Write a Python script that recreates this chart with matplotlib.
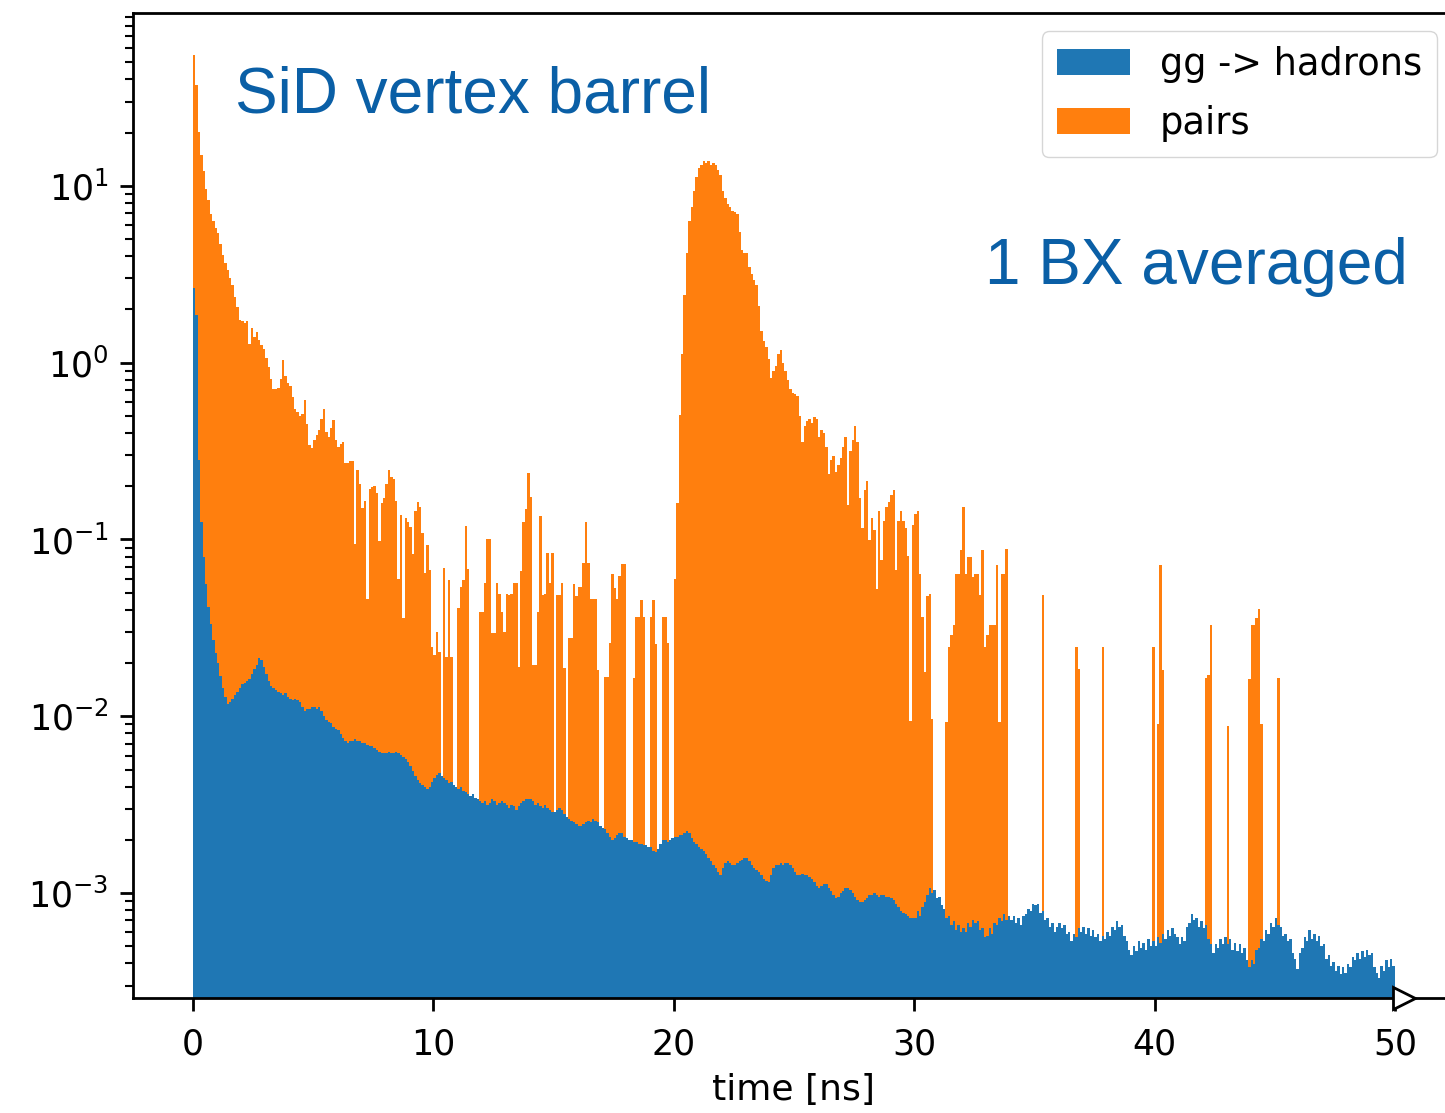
import numpy as np
import matplotlib
matplotlib.use("Agg")
import matplotlib.pyplot as plt

# 0.1 ns bins from 0 to 50 ns
bin_edges = np.linspace(0, 50, 501)

# log10 of the per-bin hit rate, gg -> hadrons (one row = 1 ns)
gg_log = [
    0.42, 0.27, -0.55, -0.90, -1.10, -1.25, -1.38, -1.48, -1.57, -1.64,
    -1.70, -1.77, -1.84, -1.89, -1.93, -1.92, -1.90, -1.88, -1.86, -1.84,
    -1.82, -1.81, -1.80, -1.79, -1.76, -1.73, -1.71, -1.67, -1.68, -1.72,
    -1.76, -1.80, -1.83, -1.84, -1.85, -1.86, -1.87, -1.88, -1.87, -1.89,
    -1.90, -1.91, -1.90, -1.91, -1.92, -1.95, -1.97, -1.96, -1.96, -1.95,
    -1.95, -1.96, -1.95, -1.97, -2.00, -2.02, -2.03, -2.04, -2.06, -2.07,
    -2.08, -2.10, -2.12, -2.14, -2.15, -2.14, -2.14, -2.13, -2.14, -2.14,
    -2.15, -2.15, -2.16, -2.17, -2.17, -2.18, -2.19, -2.20, -2.21, -2.21,
    -2.21, -2.20, -2.21, -2.21, -2.20, -2.21, -2.22, -2.23, -2.24, -2.26,
    -2.28, -2.31, -2.34, -2.36, -2.38, -2.39, -2.40, -2.41, -2.40, -2.37,
    -2.35, -2.33, -2.32, -2.34, -2.35, -2.36, -2.38, -2.37, -2.39, -2.40,
    -2.41, -2.40, -2.42, -2.43, -2.44, -2.45, -2.44, -2.46, -2.47, -2.48,
    -2.49, -2.48, -2.50, -2.49, -2.47, -2.48, -2.50, -2.49, -2.48, -2.49,
    -2.50, -2.52, -2.50, -2.51, -2.53, -2.51, -2.49, -2.48, -2.47, -2.47,
    -2.47, -2.48, -2.50, -2.49, -2.51, -2.52, -2.50, -2.52, -2.53, -2.54,
    -2.54, -2.53, -2.52, -2.53, -2.55, -2.57, -2.58, -2.59, -2.60, -2.61,
    -2.62, -2.62, -2.61, -2.60, -2.59, -2.60, -2.58, -2.59, -2.60, -2.62,
    -2.63, -2.64, -2.66, -2.68, -2.70, -2.69, -2.67, -2.66, -2.66, -2.68,
    -2.69, -2.70, -2.70, -2.71, -2.71, -2.72, -2.72, -2.73, -2.73, -2.74,
    -2.74, -2.76, -2.77, -2.75, -2.72, -2.70, -2.70, -2.71, -2.70, -2.69,
    -2.68, -2.68, -2.67, -2.67, -2.66, -2.65, -2.66, -2.69, -2.71, -2.72,
    -2.74, -2.75, -2.76, -2.78, -2.80, -2.82, -2.84, -2.86, -2.88, -2.90,
    -2.86, -2.83, -2.82, -2.83, -2.84, -2.84, -2.83, -2.82, -2.81, -2.80,
    -2.80, -2.82, -2.84, -2.86, -2.87, -2.88, -2.90, -2.92, -2.93, -2.94,
    -2.90, -2.86, -2.84, -2.84, -2.83, -2.84, -2.83, -2.83, -2.84, -2.86,
    -2.88, -2.90, -2.90, -2.89, -2.90, -2.90, -2.91, -2.92, -2.94, -2.96,
    -2.97, -2.96, -2.95, -2.95, -2.97, -2.99, -3.01, -3.03, -3.02, -3.00,
    -2.99, -2.97, -2.97, -2.98, -3.00, -3.02, -3.04, -3.05, -3.05, -3.04,
    -3.03, -3.01, -3.01, -3.00, -3.01, -3.02, -3.01, -3.01, -3.02, -3.02,
    -3.03, -3.04, -3.06, -3.08, -3.10, -3.11, -3.12, -3.13, -3.14, -3.14,
    -3.14, -3.10, -3.13, -3.08, -3.05, -3.01, -2.97, -3.00, -2.98, -3.03,
    -3.02, -3.07, -3.09, -3.14, -3.13, -3.18, -3.16, -3.21, -3.18, -3.22,
    -3.20, -3.22, -3.17, -3.19, -3.15, -3.17, -3.16, -3.21, -3.20, -3.25,
    -3.24, -3.20, -3.23, -3.17, -3.18, -3.14, -3.16, -3.12, -3.15, -3.13,
    -3.15, -3.13, -3.17, -3.14, -3.18, -3.13, -3.12, -3.09, -3.10, -3.06,
    -3.07, -3.06, -3.11, -3.10, -3.15, -3.14, -3.19, -3.17, -3.22, -3.19,
    -3.17, -3.20, -3.18, -3.23, -3.22, -3.27, -3.23, -3.25, -3.20, -3.22,
    -3.19, -3.23, -3.20, -3.24, -3.21, -3.25, -3.23, -3.27, -3.24, -3.26,
    -3.22, -3.24, -3.19, -3.21, -3.16, -3.19, -3.18, -3.24, -3.27, -3.32,
    -3.35, -3.30, -3.33, -3.27, -3.31, -3.28, -3.32, -3.26, -3.30, -3.27,
    -3.30, -3.25, -3.28, -3.23, -3.26, -3.21, -3.24, -3.20, -3.23, -3.25,
    -3.29, -3.25, -3.27, -3.19, -3.17, -3.12, -3.15, -3.14, -3.19, -3.16,
    -3.20, -3.18, -3.26, -3.29, -3.34, -3.29, -3.31, -3.26, -3.29, -3.25,
    -3.29, -3.26, -3.32, -3.28, -3.33, -3.29, -3.34, -3.31, -3.38, -3.42,
    -3.38, -3.40, -3.32, -3.31, -3.26, -3.27, -3.21, -3.23, -3.17, -3.19,
    -3.14, -3.18, -3.19, -3.24, -3.23, -3.27, -3.26, -3.34, -3.37, -3.43,
    -3.34, -3.31, -3.25, -3.27, -3.21, -3.26, -3.23, -3.27, -3.24, -3.30,
    -3.29, -3.37, -3.35, -3.41, -3.39, -3.44, -3.41, -3.46, -3.42, -3.45,
    -3.40, -3.42, -3.36, -3.38, -3.34, -3.37, -3.33, -3.36, -3.32, -3.35,
    -3.34, -3.42, -3.45, -3.48, -3.41, -3.44, -3.38, -3.42, -3.37, -3.41,
]

# log10 of the per-bin hit rate, beam pairs (None = empty bin)
N = None
pairs_log = [
    1.72, 1.55, 1.30, 1.17, 1.08, 0.98, 0.92, 0.84, 0.80, 0.76,
    0.73, 0.67, 0.61, 0.56, 0.52, 0.48, 0.44, 0.37, 0.31, 0.24,
    0.23, 0.22, 0.23, 0.10, 0.19, 0.14, 0.17, 0.12, 0.09, 0.07,
    0.02, -0.03, -0.10, -0.16, -0.16, -0.15, -0.10, 0.01, -0.08, -0.12,
    -0.14, -0.20, -0.27, -0.29, -0.31, -0.30, -0.22, -0.36, -0.48, -0.50,
    -0.45, -0.42, -0.39, -0.33, -0.27, -0.40, -0.43, -0.38, -0.33, -0.45,
    -0.49, -0.47, -0.46, -0.58, -0.58, -0.57, -0.57, -1.06, -0.62, -0.70,
    -0.84, -0.80, -1.41, -0.73, -0.72, -0.71, -0.75, -1.04, -0.81, -0.78,
    -0.70, -0.62, -0.66, -0.67, -0.80, -1.27, -0.88, -1.52, -0.90, -0.92,
    -0.95, -1.11, -0.85, -0.80, -0.83, -0.98, -1.22, -1.05, -1.20, -1.69,
    -1.75, -1.60, -1.74, N, -1.19, -1.76, -1.26, -1.76, N, N,
    -1.43, -1.30, -1.26, -0.94, -1.19, N, N, N, N, -1.45,
    -1.45, -1.27, -1.01, -1.01, -1.58, -1.58, -1.27, -1.34, -1.45, -1.57,
    -1.34, -1.34, -1.34, -1.27, -1.27, -1.80, -1.20, -0.91, -0.84, -0.63,
    -0.77, -1.79, -1.79, -1.45, -0.88, -1.34, -1.34, -1.09, -1.27, -1.09,
    N, -1.34, -1.34, -1.27, -1.80, N, -1.60, -1.60, -1.27, -1.34,
    -1.29, -1.29, -1.15, -0.91, -1.15, -1.36, -1.36, -1.36, -1.80, N,
    N, -1.84, -1.84, -1.62, -1.21, -1.29, -1.36, -1.22, -1.15, -1.15,
    N, N, N, -1.84, -1.46, -1.46, -1.36, -1.46, N, N,
    -1.46, -1.36, -1.62, N, N, -1.46, -1.46, -1.62, N, N,
    -1.24, -0.80, -0.30, 0.05, 0.38, 0.62, 0.80, 0.88, 0.97, 1.05,
    1.10, 1.12, 1.14, 1.13, 1.14, 1.12, 1.13, 1.12, 1.09, 1.06,
    0.97, 0.93, 0.90, 0.88, 0.86, 0.85, 0.84, 0.74, 0.64, 0.62,
    0.62, 0.54, 0.50, 0.47, 0.44, 0.32, 0.18, 0.12, 0.09, 0.02,
    -0.09, -0.05, -0.02, 0.05, 0.07, 0.00, -0.05, -0.10, -0.15, -0.17,
    -0.18, -0.19, -0.30, -0.45, -0.36, -0.33, -0.32, -0.34, -0.31, -0.32,
    -0.42, -0.38, -0.40, -0.48, -0.63, -0.55, -0.53, -0.62, -0.58, -0.54,
    -0.48, -0.42, -0.81, -0.50, -0.44, -0.36, -0.45, -0.77, -0.94, -0.72,
    -0.67, -1.01, -0.88, -0.95, -1.29, -0.84, -1.12, -0.90, -0.82, -0.79,
    -0.75, -0.72, -1.18, -0.90, -0.84, -0.90, -0.94, -1.10, -2.06, -0.92,
    -0.86, -0.84, -1.20, -1.45, -1.77, -1.33, -1.32, -2.06, N, N,
    N, N, N, -2.07, -1.62, -1.55, -1.49, -1.20, -1.20, -1.06,
    -0.82, -1.20, -1.10, -1.10, -1.22, -1.20, -1.20, -1.32, -1.06, -1.62,
    -1.55, -1.49, -1.49, -1.49, -1.15, -2.07, -1.20, -1.20, -1.06, N,
    N, N, N, N, N, N, N, N, N, N,
    N, N, N, -1.32, N, N, N, N, N, N,
    N, N, N, N, N, N, N, -1.62, -1.75, N,
    N, N, N, N, N, N, N, N, -1.62, N,
    N, N, N, N, N, N, N, N, N, N,
    N, N, N, N, N, N, N, N, N, -1.62,
    N, -2.07, -1.15, -1.75, N, N, N, N, N, N,
    N, N, N, N, N, N, N, N, N, N,
    N, -1.80, -1.78, -1.49, N, N, N, N, N, N,
    -2.08, N, N, N, N, N, N, N, N, -1.80,
    -1.49, -1.49, -1.45, -1.40, -2.07, N, N, N, N, N,
    N, -1.80, N, N, N, N, N, N, N, N,
    N, N, N, N, N, N, N, N, N, N,
    N, N, N, N, N, N, N, N, N, N,
    N, N, N, N, N, N, N, N, N, N,
    N, N, N, N, N, N, N, N, N, N,
]

labels = ['gg -> hadrons', 'pairs']


def to_rate(logs):
    return np.array([0.0 if v is None else 10.0 ** v for v in logs])


gg = to_rate(gg_log)
pairs = to_rate(pairs_log)
centers = 0.5 * (bin_edges[:-1] + bin_edges[1:])

fig = plt.figure(figsize=(14.45, 11.13), dpi=100)
ax = fig.add_axes([0.092, 0.1033, 0.9149, 0.885])

ax.hist([centers, centers], bins=bin_edges, weights=[gg, pairs],
        stacked=True, label=labels, log=True)

ax.set_xlim(-2.5, 52.5)
ax.set_ylim(2.55e-4, 95)
ax.set_xticks([0, 10, 20, 30, 40, 50])
ax.set_xlabel('time [ns]', fontsize=26, labelpad=8)

ax.tick_params(axis='x', which='major', labelsize=25, length=9.5, width=2, pad=12)
ax.tick_params(axis='y', which='major', labelsize=25, length=9.5, width=2, pad=8)
ax.tick_params(axis='both', which='minor', length=5.5, width=1.5)
for s in ax.spines.values():
    s.set_linewidth(2)

# open arrow head at the end of the time axis
ax.plot([bin_edges[-1] + 0.4], [0], marker='>', ms=16, mfc='white', mec='black',
        mew=2, transform=ax.get_xaxis_transform(), clip_on=False, zorder=5)

ax.legend(loc='upper right', fontsize=26.5, labelspacing=0.6)

fig.text(0.1626, 0.899, 'SiD vertex barrel', color='#0a5fa6', fontsize=46,
         family=['Liberation Sans', 'DejaVu Sans'], va='baseline')
fig.text(0.6817, 0.745, '1 BX averaged', color='#0a5fa6', fontsize=46,
         family=['Liberation Sans', 'DejaVu Sans'], va='baseline')

fig.savefig('out.png', dpi=100)
